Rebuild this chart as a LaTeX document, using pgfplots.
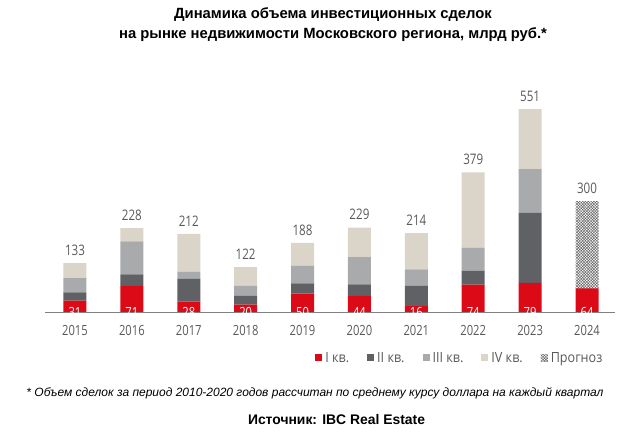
\documentclass[border=0pt]{standalone}
\usepackage{fontspec}
\usepackage{pgfplots}
\pgfplotsset{compat=1.18}
\usepackage{pgfplotstable}
\usetikzlibrary{patterns.meta}

\setmainfont{Liberation Sans}
\newfontfamily\chartfont{Open Sans}[FakeStretch=0.8]
\newfontfamily\legendfont{Open Sans}[FakeStretch=0.9]

\definecolor{qone}{HTML}{DC0A17}
\definecolor{qtwo}{HTML}{5F6165}
\definecolor{qthree}{HTML}{A9AAAC}
\definecolor{qfour}{HTML}{DAD4C9}
\definecolor{fcast}{HTML}{666666}
\definecolor{labelgray}{HTML}{595959}
\definecolor{axisgray}{HTML}{808080}

% Quarterly deal volume, bn RUB; f = forecast remainder, t = annual total
\pgfplotstableread{
x  q1  q2   q3   q4   f    t
0  31  22   39   41   0    133
1  71  31   90   36   0    228
2  28  62   19   103  0    212
3  20  24   27   51   0    122
4  50  28   48   62   0    188
5  44  31   74   80   0    229
6  16  55   45   98   0    214
7  74  38   63   204  0    379
8  79  190  119  163  0    551
9  64  0    0    0    236  300
}\deals

\pgfplotsset{
  dealframe/.style={
    at={(45pt,124pt)}, anchor=south west,
    scale only axis, width=570pt, height=221pt,
    xmin=-0.527, xmax=9.492, ymin=0, ymax=600,
    bar width=23pt, clip=false,
  },
}

\begin{document}
\begin{tikzpicture}[x=1pt,y=1pt]
\useasboundingbox (0,0) rectangle (637,436);

\node[font=\bfseries\fontsize{14.8}{17}\selectfont] at (333,421) {Динамика объема инвестиционных сделок};
\node[font=\bfseries\fontsize{14.8}{17}\selectfont] at (333,401) {на рынке недвижимости Московского региона, млрд руб.*};

\begin{axis}[
  dealframe,
  ybar stacked,
  axis x line*=bottom, axis y line=none,
  x axis line style={draw=axisgray, line width=0.8pt, -},
  xtick={0,...,9},
  xticklabel={\chartfont\pgfmathtruncatemacro{\yr}{2015+\tick}\yr},
  xtick style={draw=none},
  x tick label style={font=\chartfont\fontsize{14}{16}\selectfont, text=labelgray, yshift=-10pt},
  ytick=\empty,
  legend image code/.code={\fill[#1] (0pt,-3.5pt) rectangle (7pt,3.5pt);},
  legend style={at={(0.474,-0.208)}, anchor=west, draw=none, fill=none,
    inner sep=0pt, legend columns=-1,
    font=\legendfont\fontsize{14}{16}\selectfont, text=labelgray,
    /tikz/every odd column/.style={column sep=1pt},
    /tikz/every even column/.style={column sep=16pt}},
]
% first quarter, value printed in the middle of the segment
\addplot[draw=none, fill=qone,
  nodes near coords={\chartfont\pgfmathprintnumber[assume math mode=true]{\pgfplotspointmeta}},
  point meta=y,
  visualization depends on={rawy \as \rawy},
  nodes near coords style={anchor=center, text=white,
    font=\chartfont\fontsize{14}{15}\selectfont, yshift={-0.18425*\rawy}}]
  table[x=x, y=q1] {\deals};
\addlegendentry{I кв.}
\addplot[draw=none, fill=qtwo] table[x=x, y=q2] {\deals};
\addlegendentry{II кв.}
\addplot[draw=none, fill=qthree] table[x=x, y=q3] {\deals};
\addlegendentry{III кв.}
\addplot[draw=none, fill=qfour] table[x=x, y=q4] {\deals};
\addlegendentry{IV кв.}
\addplot[draw=none, fill=white,
  pattern={Hatch[angle=45, distance=2pt, line width=0.5pt]}, pattern color=fcast]
  table[x=x, y=f] {\deals};
\addlegendentry{Прогноз}
\end{axis}

% annual totals above the bars
\begin{axis}[
  dealframe, ybar, hide axis,
]
\addplot[draw=none, fill=none,
  nodes near coords={\chartfont\pgfmathprintnumber[assume math mode=true]{\pgfplotspointmeta}},
  point meta=y,
  nodes near coords style={anchor=south, text=labelgray,
    font=\chartfont\fontsize{14.5}{16}\selectfont, yshift=4pt}]
  table[x=x, y=t] {\deals};
\end{axis}

\node[font=\itshape\fontsize{12}{14}\selectfont] at (315,43) {* Объем сделок за период 2010-2020 годов рассчитан по среднему курсу доллара на каждый квартал};
\node[font=\bfseries\fontsize{13.9}{16}\selectfont] at (336.5,16) {Источник: IBC Real Estate};
\end{tikzpicture}
\end{document}
